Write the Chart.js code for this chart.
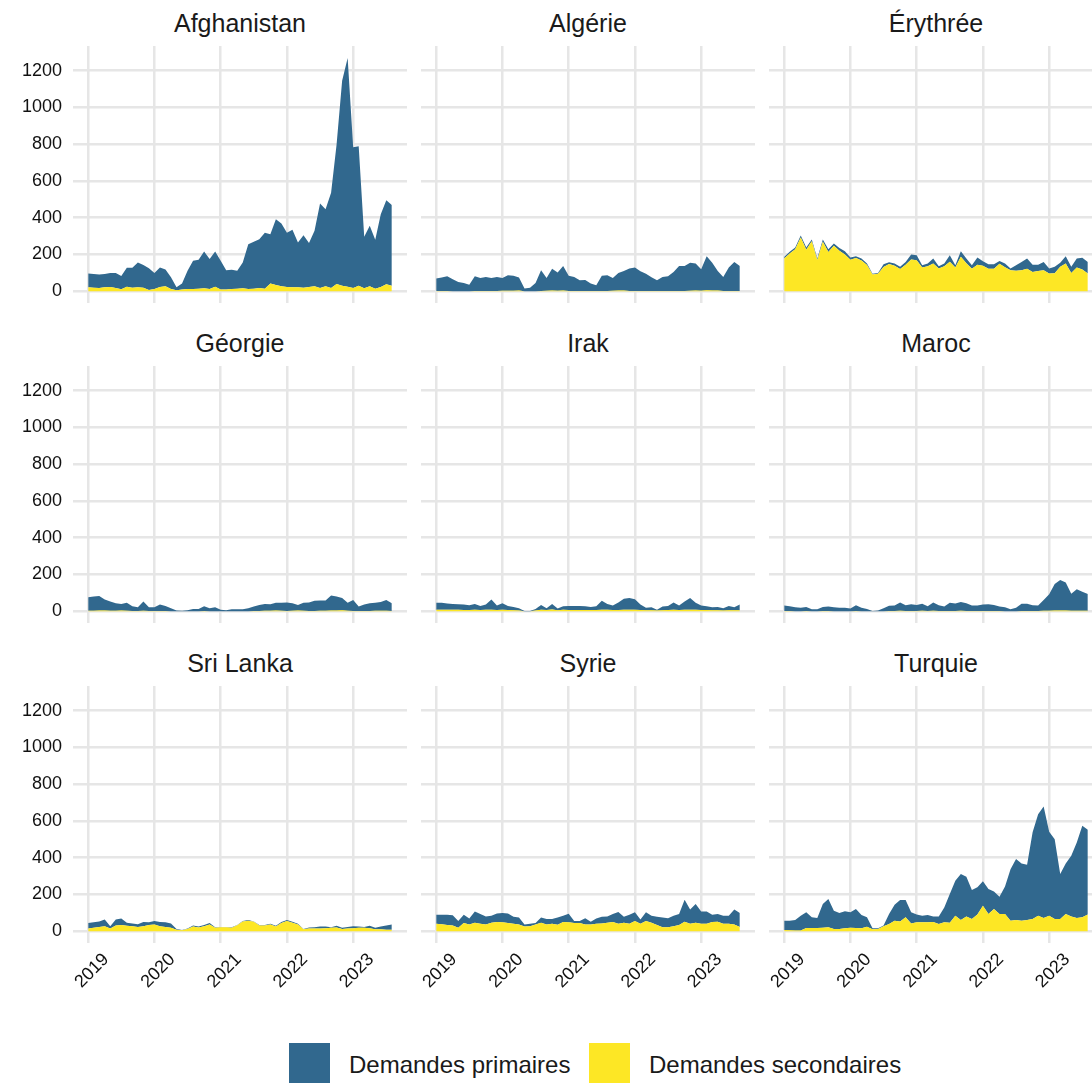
<!DOCTYPE html>
<html>
<head>
<meta charset="utf-8">
<script src="https://cdn.jsdelivr.net/npm/chart.js@4"></script>
<style>
html, body { margin:0; padding:0; background:#ffffff; }
body { width:1092px; height:1083px; overflow:hidden; position:relative; font-family:"Liberation Sans", Arial, sans-serif; color:#1a1a1a; }
canvas { position:absolute; display:block; }
.strip { position:absolute; width:334px; text-align:center; font-size:25px; line-height:25px; color:#1a1a1a; white-space:nowrap; }
.key { position:absolute; width:41px; height:41px; }
.ltxt { position:absolute; font-size:24px; line-height:24px; color:#1a1a1a; white-space:nowrap; }
</style>
</head>
<body>
<script>
// ---------- DATA ----------
const months = ["2019-01","2019-02","2019-03","2019-04","2019-05","2019-06","2019-07","2019-08","2019-09","2019-10","2019-11","2019-12",
"2020-01","2020-02","2020-03","2020-04","2020-05","2020-06","2020-07","2020-08","2020-09","2020-10","2020-11","2020-12",
"2021-01","2021-02","2021-03","2021-04","2021-05","2021-06","2021-07","2021-08","2021-09","2021-10","2021-11","2021-12",
"2022-01","2022-02","2022-03","2022-04","2022-05","2022-06","2022-07","2022-08","2022-09","2022-10","2022-11","2022-12",
"2023-01","2023-02","2023-03","2023-04","2023-05","2023-06","2023-07","2023-08"];
const yearLabels = ["2019","2020","2021","2022","2023"];
const yTickValues = [0,200,400,600,800,1000,1200];
const yTickLabels = ["0","200","400","600","800","1000","1200"];
const countries = ["Afghanistan","Algérie","Érythrée","Géorgie","Irak","Maroc","Sri Lanka","Syrie","Turquie"];
const seriesNames = ["Demandes primaires","Demandes secondaires"];

const primAfghanistan = [75,74,74,72,75,81,72,103,108,135,123,118,87,106,92,64,16,33,100,154,157,201,163,192,156,105,105,98,141,244,255,265,305,267,358,341,295,312,243,285,238,302,460,419,518,760,1114,1243,765,759,280,329,266,395,457,439];
const secAfghanistan  = [22,20,18,22,24,18,11,25,20,22,20,7,12,24,27,12,6,10,12,12,14,16,12,25,10,10,12,14,16,12,14,18,14,43,34,27,24,22,22,20,24,27,18,27,18,40,30,25,18,30,16,27,14,24,38,30];

const primAlgerie = [67,73,80,64,50,44,35,80,71,76,71,76,70,84,81,71,14,19,44,113,70,117,99,134,82,76,58,60,40,31,82,85,70,96,106,122,127,107,94,74,58,76,80,103,136,136,152,147,117,185,151,106,76,127,158,136];
const secAlgerie  = [2,2,2,1,1,1,1,2,2,2,2,2,3,3,3,4,1,1,1,2,3,5,3,4,2,2,2,2,2,2,2,2,3,4,5,2,2,2,2,2,2,2,2,2,2,2,3,4,3,6,4,5,2,2,2,2];

const primErythree = [8,10,10,12,12,10,8,12,15,12,15,18,12,10,10,8,5,5,15,10,12,12,15,27,27,12,15,27,12,15,35,12,30,25,20,40,25,25,25,15,20,10,30,45,55,40,35,45,27,35,22,40,33,49,63,63];
const secErythree  = [179,205,228,292,226,272,170,270,214,248,221,200,172,181,168,143,91,95,132,148,139,121,145,173,169,130,136,151,124,136,161,130,188,153,122,144,139,122,122,150,131,114,112,115,123,105,110,115,97,98,133,151,100,129,119,97];

const primGeorgie = [74,78,78,60,50,41,35,43,26,20,50,20,20,35,27,16,3,3,5,12,12,26,16,21,8,5,10,10,10,16,24,33,37,36,41,43,46,41,30,43,46,55,56,56,82,76,67,43,60,24,35,42,43,47,59,42];
const secGeorgie  = [3,3,5,4,3,3,5,3,2,2,3,2,2,2,2,1,1,0,1,1,1,2,1,1,1,1,1,1,1,1,2,2,3,3,5,3,2,3,5,3,2,2,3,3,4,5,6,3,2,2,2,2,3,3,3,2];

const primIrak = [38,38,34,32,31,30,26,32,22,29,56,24,36,22,18,12,1,1,9,27,10,30,9,20,22,22,22,21,17,21,49,32,24,41,60,65,58,30,14,16,5,20,22,40,24,45,64,38,24,21,16,18,12,23,16,31];
const secIrak  = [8,8,8,8,8,7,7,8,7,8,8,7,8,7,6,5,1,1,4,8,7,10,6,8,7,7,7,7,7,7,8,8,7,7,8,8,8,7,6,6,4,6,7,8,7,8,8,8,7,7,6,6,5,6,6,6];

const primMaroc = [29,26,21,19,22,10,10,22,24,21,18,19,14,31,19,12,2,4,16,28,29,45,31,37,33,38,26,45,31,24,44,41,47,42,29,29,35,37,33,24,21,10,19,39,39,31,29,58,90,144,166,153,93,117,103,91];
const secMaroc  = [2,2,1,1,2,1,1,2,2,1,1,1,1,2,1,1,0,0,1,2,2,3,2,2,2,3,2,3,2,2,2,2,3,2,2,2,2,2,2,2,1,1,1,2,2,2,2,3,3,4,4,4,3,3,3,3];

const primSriLanka = [30,30,30,36,13,32,35,17,15,15,22,15,19,22,25,24,4,1,2,6,5,6,8,2,2,2,2,2,2,4,2,2,2,4,4,5,6,5,4,2,6,7,11,9,3,9,6,9,11,7,5,13,8,15,23,28];
const secSriLanka  = [15,19,24,28,15,32,34,30,28,24,28,34,37,28,24,19,9,6,13,26,21,28,37,20,22,22,20,33,54,58,52,32,32,37,26,45,56,47,37,11,15,15,15,17,19,21,13,15,17,19,19,17,11,11,9,9];

const primSyrie = [49,52,56,56,37,45,32,61,53,43,37,47,50,52,38,38,11,13,8,28,30,26,39,34,46,11,11,34,15,28,36,33,44,64,32,49,47,23,47,37,45,53,49,56,60,120,77,101,67,67,40,42,43,43,81,75];
const secSyrie  = [41,38,34,32,19,45,37,47,41,37,47,50,49,45,41,37,26,28,37,47,37,41,36,50,49,45,45,37,37,41,43,47,50,41,47,41,56,41,56,47,34,22,22,28,34,52,41,47,41,41,50,52,41,41,37,24];

const primTurquie = [51,52,58,81,85,58,54,128,154,99,87,93,83,103,73,51,5,3,4,54,87,116,94,60,42,36,40,29,40,81,156,190,249,216,157,148,133,136,96,94,149,280,331,311,300,471,552,607,456,434,244,275,331,411,498,461];
const secTurquie  = [7,6,4,4,18,18,18,20,22,13,13,16,20,18,16,25,11,13,27,40,58,54,76,43,49,49,49,51,40,49,47,85,62,81,67,91,139,94,121,94,94,58,62,58,62,67,85,72,85,67,67,94,80,72,76,91];

const primaires = [primAfghanistan, primAlgerie, primErythree, primGeorgie, primIrak, primMaroc, primSriLanka, primSyrie, primTurquie];
const secondaires = [secAfghanistan, secAlgerie, secErythree, secGeorgie, secIrak, secMaroc, secSriLanka, secSyrie, secTurquie];

// ---------- STYLE ----------
const BLUE = "#31688E";
const YELLOW = "#FDE725";
const GRID = "#E6E6E6";
const FONT = "'Liberation Sans', Arial, sans-serif";
const TXT = "#111111";
const colAreaLeft = [73, 421, 769];
const rowAreaTop = [46, 366, 686];
const AREA_W = 334, AREA_H = 257, YAXIS_W = 73, XAXIS_H = 60;

const yearIdx = yearLabels.map(y => months.indexOf(y + "-01"));

function makePanel(k) {
  const r = Math.floor(k / 3), c = k % 3;
  const showY = c === 0, showX = r === 2;
  const yw = showY ? YAXIS_W : 0;
  const xh = showX ? XAXIS_H : 0;
  const cv = document.createElement("canvas");
  cv.width = yw + AREA_W; cv.height = AREA_H + xh;
  cv.style.left = (colAreaLeft[c] - yw) + "px";
  cv.style.top = rowAreaTop[r] + "px";
  cv.style.width = cv.width + "px"; cv.style.height = cv.height + "px";
  document.body.appendChild(cv);

  const t = document.createElement("div");
  t.className = "strip";
  t.textContent = countries[k];
  t.style.left = colAreaLeft[c] + "px";
  t.style.top = (rowAreaTop[r] - 35) + "px";
  document.body.appendChild(t);

  const toXY = arr => arr.map((v, i) => ({ x: months.indexOf(months[i]), y: v }));
  new Chart(cv, {
    type: "line",
    data: {
      datasets: [
        { label: seriesNames[1], data: toXY(secondaires[k]), backgroundColor: YELLOW, borderColor: "rgba(0,0,0,0)", borderWidth: 0, fill: "origin", pointRadius: 0, tension: 0 },
        { label: seriesNames[0], data: toXY(primaires[k]), backgroundColor: BLUE, borderColor: "rgba(0,0,0,0)", borderWidth: 0, fill: "-1", pointRadius: 0, tension: 0 }
      ]
    },
    options: {
      responsive: false, animation: false, events: [],
      devicePixelRatio: 1,
      layout: { padding: 0, autoPadding: false },
      plugins: { legend: { display: false }, tooltip: { enabled: false }, title: { display: false } },
      scales: {
        x: {
          type: "linear", min: -2.75, max: months.length - 1 + 2.75,
          afterBuildTicks: s => { s.ticks = yearIdx.map(v => ({ value: v })); },
          grid: { color: GRID, lineWidth: 2.5, drawTicks: false },
          border: { display: false },
          ticks: {
            display: showX, autoSkip: false, minRotation: 45, maxRotation: 45,
            padding: 6, labelOffset: 18,
            font: { family: FONT, size: 18 }, color: TXT,
            callback: (v, i) => yearLabels[i]
          },
          afterFit: s => { s.height = xh; s.paddingLeft = 0; s.paddingRight = 0; s.paddingTop = 0; s.paddingBottom = 0; }
        },
        y: {
          type: "linear", stacked: true, min: -63.5, max: 1333.5,
          afterBuildTicks: s => { s.ticks = yTickValues.map(v => ({ value: v })); },
          grid: { color: GRID, lineWidth: 2.5, drawTicks: false },
          border: { display: false },
          ticks: { display: showY, padding: 11, font: { family: FONT, size: 18 }, color: TXT,
                   callback: (v, i) => yTickLabels[i] },
          afterFit: s => { s.width = yw; s.paddingTop = 0; s.paddingBottom = 0; s.paddingLeft = 0; s.paddingRight = 0; }
        }
      }
    }
  });
}

for (let k = 0; k < countries.length; k++) makePanel(k);

// legend
const legend = [
  { color: BLUE, text: seriesNames[0], keyLeft: 289, textLeft: 349 },
  { color: YELLOW, text: seriesNames[1], keyLeft: 589, textLeft: 649 }
];
legend.forEach(l => {
  const sq = document.createElement("div");
  sq.className = "key"; sq.style.background = l.color;
  sq.style.left = l.keyLeft + "px"; sq.style.top = "1043px";
  document.body.appendChild(sq);
  const tx = document.createElement("div");
  tx.className = "ltxt"; tx.textContent = l.text;
  tx.style.left = l.textLeft + "px"; tx.style.top = "1053px";
  document.body.appendChild(tx);
});
</script>
</body>
</html>
